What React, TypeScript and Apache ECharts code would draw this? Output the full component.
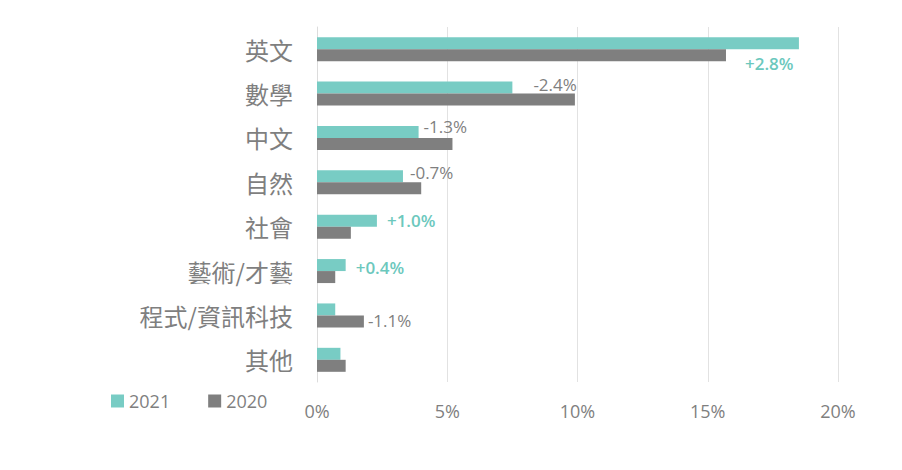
import React, { useEffect, useRef } from 'react'
import * as echarts from 'echarts'

const categories = ['英文', '數學', '中文', '自然', '社會', '藝術/才藝', '程式/資訊科技', '其他']
const values2021 = [18.5, 7.5, 3.9, 3.3, 2.3, 1.1, 0.7, 0.9]
const values2020 = [15.7, 9.9, 5.2, 4.0, 1.3, 0.7, 1.8, 1.1]
const diffLabels = ['+2.8%', '-2.4%', '-1.3%', '-0.7%', '+1.0%', '+0.4%', '-1.1%', '']
const xTicks = [0, 5, 10, 15, 20]

const TEAL = '#78ccc4'
const GRAY = '#7f7f7f'
const TEXT = '#7f7f7f'
const TEAL_TEXT = '#6cc8bd'

// which bar each difference label sits next to, and its nudge in px
const labelPlacement = [
  { on: '2020', dx: 19, dy: 8 },
  { on: '2021', dx: 21, dy: -3 },
  { on: '2021', dx: 5, dy: -5 },
  { on: '2021', dx: 7, dy: -4 },
  { on: '2021', dx: 10, dy: 0 },
  { on: '2021', dx: 10, dy: 2 },
  { on: '2020', dx: 4, dy: -1 },
  { on: '2021', dx: 0, dy: 0 }
]

const buildData = (values: number[], name: string) =>
  values.map((v, i) => {
    const p = labelPlacement[i]
    const text = diffLabels[i]
    if (p.on !== name || !text) return { value: v }
    const positive = text.startsWith('+')
    return {
      value: v,
      label: {
        show: true,
        position: 'right',
        distance: 0,
        offset: [p.dx, p.dy],
        formatter: text,
        color: positive ? TEAL_TEXT : TEXT,
        fontWeight: positive ? 600 : 400,
        fontSize: 17,
        fontFamily: 'Open Sans'
      }
    }
  })

export default function App() {
  const chartRef: any = useRef()

  useEffect(() => {
    const myChart = echarts.init(chartRef.current, null, { renderer: 'svg' })
    const option = {
      animation: false,
      grid: { left: 317, right: 64, top: 27, bottom: 88 },
      legend: {
        left: 106,
        top: 387,
        itemWidth: 13,
        itemHeight: 13,
        itemGap: 38,
        icon: 'rect',
        textStyle: { color: TEXT, fontSize: 18, fontFamily: 'Open Sans' },
        data: ['2021', '2020']
      },
      xAxis: {
        type: 'value',
        min: xTicks[0],
        max: xTicks[xTicks.length - 1],
        interval: 5,
        axisLine: { show: false },
        axisTick: { show: false },
        axisLabel: {
          color: TEXT,
          fontSize: 18,
          fontFamily: 'Open Sans',
          margin: 20,
          formatter: '{value}%'
        },
        splitLine: { show: true, lineStyle: { color: '#e2e2e2', width: 1 } }
      },
      yAxis: {
        type: 'category',
        inverse: true,
        data: categories,
        axisLine: { show: true, lineStyle: { color: '#dcdcdc', width: 1 } },
        axisTick: { show: false },
        axisLabel: {
          color: TEXT,
          fontSize: 24,
          fontFamily: 'Noto Sans CJK TC',
          margin: 24
        }
      },
      series: [
        {
          name: '2021',
          type: 'bar',
          barWidth: 12,
          barGap: '0%',
          itemStyle: { color: TEAL },
          data: buildData(values2021, '2021')
        },
        {
          name: '2020',
          type: 'bar',
          barWidth: 12,
          barGap: '0%',
          itemStyle: { color: GRAY },
          data: buildData(values2020, '2020')
        }
      ]
    }
    myChart.setOption(option)
    return () => {
      myChart.dispose()
    }
  }, [])

  return (
    <div
      ref={chartRef}
      style={{ position: 'fixed', left: 0, top: 0, width: '902px', height: '470px', background: '#fff' }}
    />
  )
}
